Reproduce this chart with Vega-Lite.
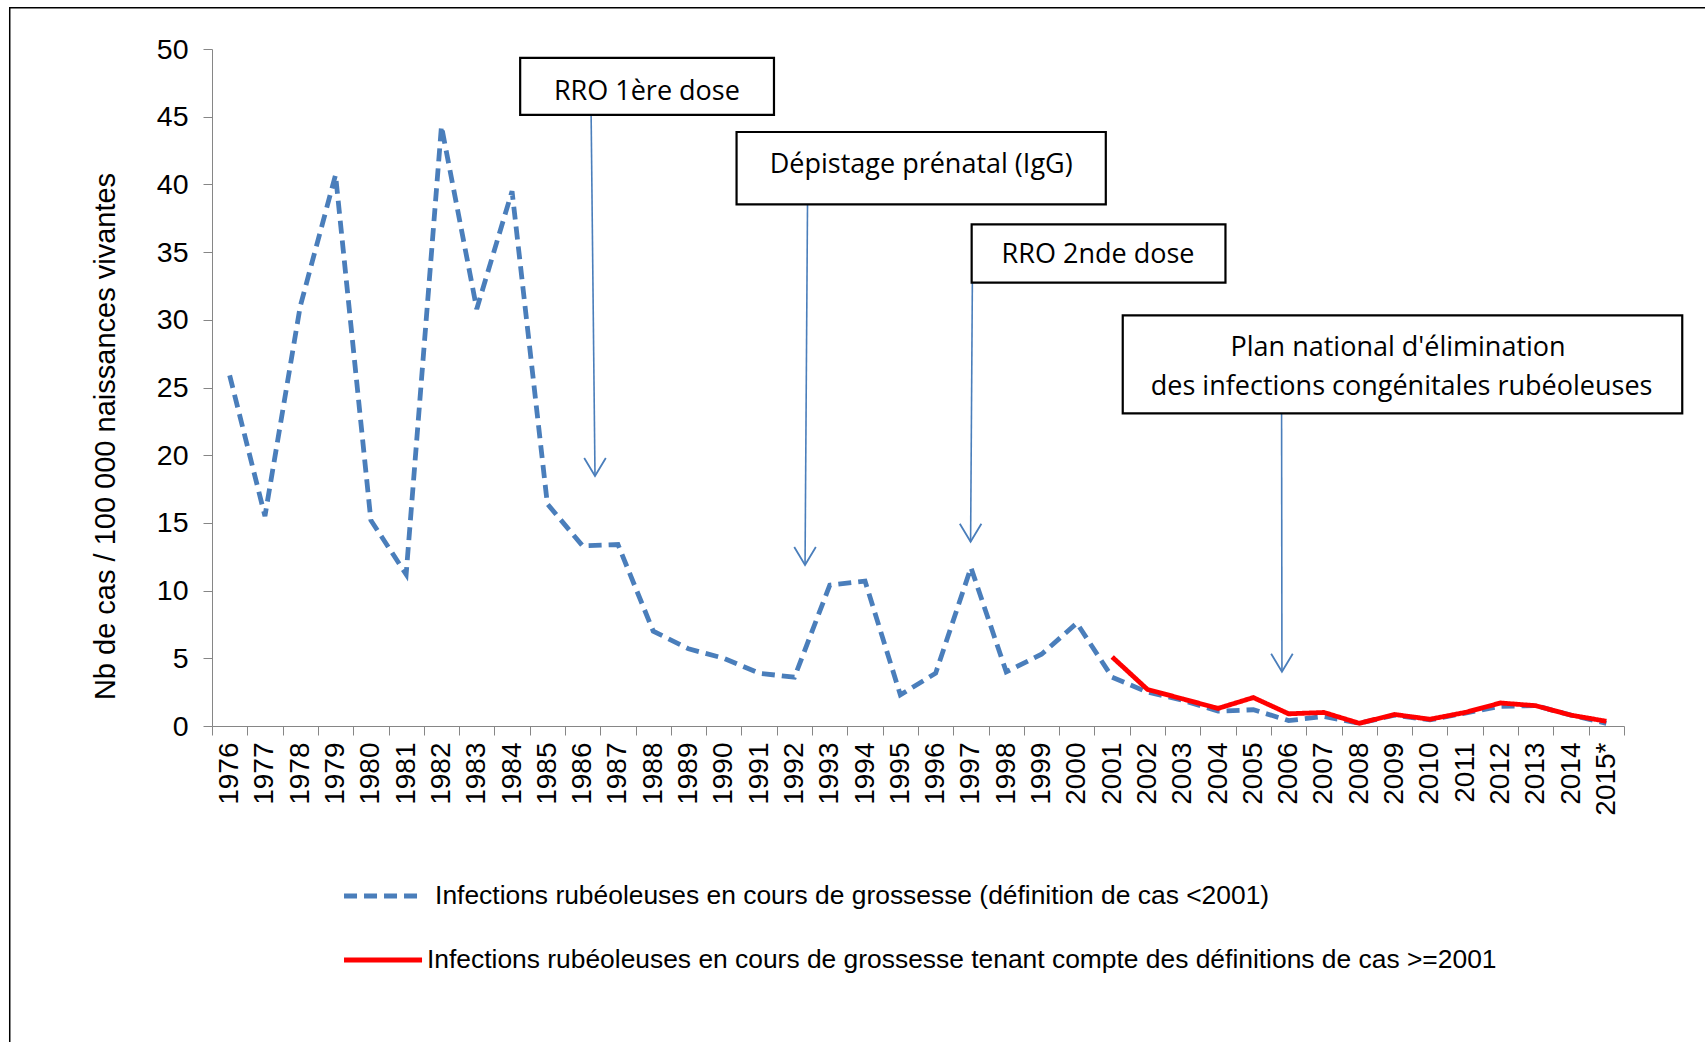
{
  "$schema": "https://vega.github.io/schema/vega-lite/v6.json",
  "width": 1412,
  "height": 677,
  "autosize": {"type": "none"},
  "padding": {"left": 212, "top": 49, "right": 81, "bottom": 316},
  "background": "white",
  "config": {"view": {"stroke": null}, "font": "Liberation Sans"},
  "datasets": {
    "series": [
      {"year": "1976", "series": "Infections rubéoleuses en cours de grossesse (définition de cas <2001)", "value": 25.9},
      {"year": "1977", "series": "Infections rubéoleuses en cours de grossesse (définition de cas <2001)", "value": 15.5},
      {"year": "1978", "series": "Infections rubéoleuses en cours de grossesse (définition de cas <2001)", "value": 31.0},
      {"year": "1979", "series": "Infections rubéoleuses en cours de grossesse (définition de cas <2001)", "value": 40.7},
      {"year": "1980", "series": "Infections rubéoleuses en cours de grossesse (définition de cas <2001)", "value": 15.2},
      {"year": "1981", "series": "Infections rubéoleuses en cours de grossesse (définition de cas <2001)", "value": 11.2},
      {"year": "1982", "series": "Infections rubéoleuses en cours de grossesse (définition de cas <2001)", "value": 44.3},
      {"year": "1983", "series": "Infections rubéoleuses en cours de grossesse (définition de cas <2001)", "value": 30.8},
      {"year": "1984", "series": "Infections rubéoleuses en cours de grossesse (définition de cas <2001)", "value": 39.5},
      {"year": "1985", "series": "Infections rubéoleuses en cours de grossesse (définition de cas <2001)", "value": 16.4},
      {"year": "1986", "series": "Infections rubéoleuses en cours de grossesse (définition de cas <2001)", "value": 13.3},
      {"year": "1987", "series": "Infections rubéoleuses en cours de grossesse (définition de cas <2001)", "value": 13.4},
      {"year": "1988", "series": "Infections rubéoleuses en cours de grossesse (définition de cas <2001)", "value": 7.0},
      {"year": "1989", "series": "Infections rubéoleuses en cours de grossesse (définition de cas <2001)", "value": 5.7},
      {"year": "1990", "series": "Infections rubéoleuses en cours de grossesse (définition de cas <2001)", "value": 5.0},
      {"year": "1991", "series": "Infections rubéoleuses en cours de grossesse (définition de cas <2001)", "value": 3.9},
      {"year": "1992", "series": "Infections rubéoleuses en cours de grossesse (définition de cas <2001)", "value": 3.6},
      {"year": "1993", "series": "Infections rubéoleuses en cours de grossesse (définition de cas <2001)", "value": 10.4},
      {"year": "1994", "series": "Infections rubéoleuses en cours de grossesse (définition de cas <2001)", "value": 10.7},
      {"year": "1995", "series": "Infections rubéoleuses en cours de grossesse (définition de cas <2001)", "value": 2.3},
      {"year": "1996", "series": "Infections rubéoleuses en cours de grossesse (définition de cas <2001)", "value": 3.9},
      {"year": "1997", "series": "Infections rubéoleuses en cours de grossesse (définition de cas <2001)", "value": 11.7},
      {"year": "1998", "series": "Infections rubéoleuses en cours de grossesse (définition de cas <2001)", "value": 4.0},
      {"year": "1999", "series": "Infections rubéoleuses en cours de grossesse (définition de cas <2001)", "value": 5.3},
      {"year": "2000", "series": "Infections rubéoleuses en cours de grossesse (définition de cas <2001)", "value": 7.6},
      {"year": "2001", "series": "Infections rubéoleuses en cours de grossesse (définition de cas <2001)", "value": 3.6},
      {"year": "2002", "series": "Infections rubéoleuses en cours de grossesse (définition de cas <2001)", "value": 2.5},
      {"year": "2003", "series": "Infections rubéoleuses en cours de grossesse (définition de cas <2001)", "value": 1.9},
      {"year": "2004", "series": "Infections rubéoleuses en cours de grossesse (définition de cas <2001)", "value": 1.1},
      {"year": "2005", "series": "Infections rubéoleuses en cours de grossesse (définition de cas <2001)", "value": 1.2},
      {"year": "2006", "series": "Infections rubéoleuses en cours de grossesse (définition de cas <2001)", "value": 0.4},
      {"year": "2007", "series": "Infections rubéoleuses en cours de grossesse (définition de cas <2001)", "value": 0.7},
      {"year": "2008", "series": "Infections rubéoleuses en cours de grossesse (définition de cas <2001)", "value": 0.2},
      {"year": "2009", "series": "Infections rubéoleuses en cours de grossesse (définition de cas <2001)", "value": 0.8},
      {"year": "2010", "series": "Infections rubéoleuses en cours de grossesse (définition de cas <2001)", "value": 0.45},
      {"year": "2011", "series": "Infections rubéoleuses en cours de grossesse (définition de cas <2001)", "value": 0.95},
      {"year": "2012", "series": "Infections rubéoleuses en cours de grossesse (définition de cas <2001)", "value": 1.45},
      {"year": "2013", "series": "Infections rubéoleuses en cours de grossesse (définition de cas <2001)", "value": 1.5},
      {"year": "2014", "series": "Infections rubéoleuses en cours de grossesse (définition de cas <2001)", "value": 0.8},
      {"year": "2015*", "series": "Infections rubéoleuses en cours de grossesse (définition de cas <2001)", "value": 0.2},
      {"year": "2001", "series": "Infections rubéoleuses en cours de grossesse tenant compte des définitions de cas >=2001", "value": 5.1},
      {"year": "2002", "series": "Infections rubéoleuses en cours de grossesse tenant compte des définitions de cas >=2001", "value": 2.7},
      {"year": "2003", "series": "Infections rubéoleuses en cours de grossesse tenant compte des définitions de cas >=2001", "value": 2.0},
      {"year": "2004", "series": "Infections rubéoleuses en cours de grossesse tenant compte des définitions de cas >=2001", "value": 1.3},
      {"year": "2005", "series": "Infections rubéoleuses en cours de grossesse tenant compte des définitions de cas >=2001", "value": 2.1},
      {"year": "2006", "series": "Infections rubéoleuses en cours de grossesse tenant compte des définitions de cas >=2001", "value": 0.9},
      {"year": "2007", "series": "Infections rubéoleuses en cours de grossesse tenant compte des définitions de cas >=2001", "value": 1.0},
      {"year": "2008", "series": "Infections rubéoleuses en cours de grossesse tenant compte des définitions de cas >=2001", "value": 0.2},
      {"year": "2009", "series": "Infections rubéoleuses en cours de grossesse tenant compte des définitions de cas >=2001", "value": 0.85},
      {"year": "2010", "series": "Infections rubéoleuses en cours de grossesse tenant compte des définitions de cas >=2001", "value": 0.5},
      {"year": "2011", "series": "Infections rubéoleuses en cours de grossesse tenant compte des définitions de cas >=2001", "value": 1.0},
      {"year": "2012", "series": "Infections rubéoleuses en cours de grossesse tenant compte des définitions de cas >=2001", "value": 1.7},
      {"year": "2013", "series": "Infections rubéoleuses en cours de grossesse tenant compte des définitions de cas >=2001", "value": 1.5},
      {"year": "2014", "series": "Infections rubéoleuses en cours de grossesse tenant compte des définitions de cas >=2001", "value": 0.8},
      {"year": "2015*", "series": "Infections rubéoleuses en cours de grossesse tenant compte des définitions de cas >=2001", "value": 0.35}
    ],
    "boxes": [
      {"event": "RRO 1ère dose", "x0": 8.73, "x1": 15.92, "y0": 45.13, "y1": 49.34},
      {"event": "Dépistage prénatal (IgG)", "x0": 14.86, "x1": 25.32, "y0": 38.53, "y1": 43.87},
      {"event": "RRO 2nde dose", "x0": 21.52, "x1": 28.71, "y0": 32.74, "y1": 37.05},
      {"event": "Plan national", "x0": 25.8, "x1": 41.65, "y0": 23.09, "y1": 30.32}
    ],
    "labels": [
      {"text": "RRO 1ère dose", "x": 12.32, "y": 46.85},
      {"text": "Dépistage prénatal (IgG)", "x": 20.09, "y": 41.4},
      {"text": "RRO 2nde dose", "x": 25.1, "y": 34.75},
      {"text": "Plan national d'élimination", "x": 33.6, "y": 27.9},
      {"text": "des infections congénitales rubéoleuses", "x": 33.7, "y": 25.05}
    ],
    "arrows": [
      {"event": "RRO 1ère dose", "x0": 10.74, "y0": 45.13, "x1": 10.85, "y1": 18.46},
      {"event": "Dépistage prénatal (IgG)", "x0": 16.87, "y0": 38.53, "x1": 16.8, "y1": 11.89},
      {"event": "RRO 2nde dose", "x0": 21.54, "y0": 32.74, "x1": 21.49, "y1": 13.61},
      {"event": "Plan national", "x0": 30.3, "y0": 23.09, "x1": 30.31, "y1": 4.01}
    ]
  },
  "layer": [
    {
      "data": {"values": [{}]},
      "mark": {"type": "rect", "clip": false, "fill": null, "fillOpacity": 0, "stroke": "#000000", "strokeWidth": 1.5},
      "encoding": {
        "x": {"datum": -5.73, "type": "quantitative", "scale": {"domain": [0, 40], "nice": false, "zero": false}, "axis": null},
        "x2": {"datum": 45},
        "y": {"datum": 53.05, "type": "quantitative"},
        "y2": {"datum": -30}
      }
    },
    {
      "data": {"name": "series"},
      "mark": {"type": "line", "clip": false, "strokeWidth": 4.8, "strokeCap": "butt"},
      "encoding": {
        "x": {
          "field": "year", "type": "ordinal", "bandPosition": 0.5,
          "scale": {"type": "band", "paddingInner": 0, "paddingOuter": 0},
          "axis": {"title": null, "tickBand": "extent", "labelAngle": -90, "labelFontSize": 28, "labelColor": "#000000", "labelPadding": 7, "tickSize": 9, "tickColor": "#868686", "domainColor": "#868686", "labelOverlap": false, "labelBound": false, "grid": false}
        },
        "y": {
          "field": "value", "type": "quantitative",
          "scale": {"domain": [0, 50], "nice": false, "zero": false},
          "title": "Nb de cas / 100 000 naissances vivantes",
          "axis": {"values": [0, 5, 10, 15, 20, 25, 30, 35, 40, 45, 50], "labelFontSize": 28.5, "labelColor": "#000000", "labelPadding": 15, "tickSize": 9, "tickColor": "#868686", "domainColor": "#868686", "grid": false, "titleFontSize": 29, "titleFontWeight": "normal", "titleColor": "#000000", "titlePadding": 36, "titleY": 387}
        },
        "color": {
          "field": "series", "type": "nominal", "legend": null,
          "scale": {"domain": ["Infections rubéoleuses en cours de grossesse (définition de cas <2001)", "Infections rubéoleuses en cours de grossesse tenant compte des définitions de cas >=2001"], "range": ["#4a7ebb", "#ff0000"]}
        },
        "strokeDash": {
          "field": "series", "type": "nominal", "legend": null,
          "scale": {"domain": ["Infections rubéoleuses en cours de grossesse (définition de cas <2001)", "Infections rubéoleuses en cours de grossesse tenant compte des définitions de cas >=2001"], "range": [[13, 7], [1, 0]]}
        }
      }
    },
    {
      "data": {"name": "arrows"},
      "mark": {"type": "rule", "clip": false, "color": "#4a7ebb", "strokeWidth": 1.6},
      "encoding": {
        "x": {"field": "x0", "type": "quantitative", "scale": {"domain": [0, 40], "nice": false, "zero": false}, "axis": null},
        "x2": {"field": "x1"},
        "y": {"field": "y0", "type": "quantitative", "title": "Nb de cas / 100 000 naissances vivantes"},
        "y2": {"field": "y1"}
      }
    },
    {
      "data": {"name": "arrows"},
      "mark": {"type": "point", "clip": false, "shape": "M -0.6 -1 L 0 0 L 0.6 -1", "size": 1296, "filled": false, "stroke": "#4a7ebb", "strokeWidth": 1.8, "opacity": 1},
      "encoding": {
        "x": {"field": "x1", "type": "quantitative", "scale": {"domain": [0, 40], "nice": false, "zero": false}, "axis": null},
        "y": {"field": "y1", "type": "quantitative", "title": "Nb de cas / 100 000 naissances vivantes"}
      }
    },
    {
      "data": {"name": "boxes"},
      "mark": {"type": "rect", "clip": false, "fill": "#ffffff", "stroke": "#000000", "strokeWidth": 2.2},
      "encoding": {
        "x": {"field": "x0", "type": "quantitative", "scale": {"domain": [0, 40], "nice": false, "zero": false}, "axis": null},
        "x2": {"field": "x1"},
        "y": {"field": "y0", "type": "quantitative", "title": "Nb de cas / 100 000 naissances vivantes"},
        "y2": {"field": "y1"}
      }
    },
    {
      "data": {"name": "labels"},
      "mark": {"type": "text", "clip": false, "font": "Open Sans", "fontSize": 27, "color": "#000000", "align": "center", "baseline": "middle"},
      "encoding": {
        "x": {"field": "x", "type": "quantitative", "scale": {"domain": [0, 40], "nice": false, "zero": false}, "axis": null},
        "y": {"field": "y", "type": "quantitative", "title": "Nb de cas / 100 000 naissances vivantes"},
        "text": {"field": "text", "type": "nominal"}
      }
    },
    {
      "data": {"values": [{}]},
      "mark": {"type": "rule", "clip": false, "color": "#4a7ebb", "strokeWidth": 5, "strokeDash": [13, 7]},
      "encoding": {
        "x": {"datum": 3.74, "type": "quantitative", "scale": {"domain": [0, 40], "nice": false, "zero": false}, "axis": null},
        "x2": {"datum": 5.89},
        "y": {"datum": -12.56, "type": "quantitative"}
      }
    },
    {
      "data": {"values": [{}]},
      "mark": {"type": "rule", "clip": false, "color": "#ff0000", "strokeWidth": 5},
      "encoding": {
        "x": {"datum": 3.74, "type": "quantitative", "scale": {"domain": [0, 40], "nice": false, "zero": false}, "axis": null},
        "x2": {"datum": 5.95},
        "y": {"datum": -17.28, "type": "quantitative"}
      }
    },
    {
      "data": {"values": [{}]},
      "mark": {"type": "text", "clip": false, "fontSize": 26.4, "color": "#000000", "align": "left", "baseline": "middle", "text": "Infections rubéoleuses en cours de grossesse (définition de cas <2001)"},
      "encoding": {
        "x": {"datum": 6.32, "type": "quantitative", "scale": {"domain": [0, 40], "nice": false, "zero": false}, "axis": null},
        "y": {"datum": -12.56, "type": "quantitative"}
      }
    },
    {
      "data": {"values": [{}]},
      "mark": {"type": "text", "clip": false, "fontSize": 26.4, "color": "#000000", "align": "left", "baseline": "middle", "text": "Infections rubéoleuses en cours de grossesse tenant compte des définitions de cas >=2001"},
      "encoding": {
        "x": {"datum": 6.09, "type": "quantitative", "scale": {"domain": [0, 40], "nice": false, "zero": false}, "axis": null},
        "y": {"datum": -17.28, "type": "quantitative"}
      }
    }
  ],
  "resolve": {"scale": {"x": "independent"}}
}
